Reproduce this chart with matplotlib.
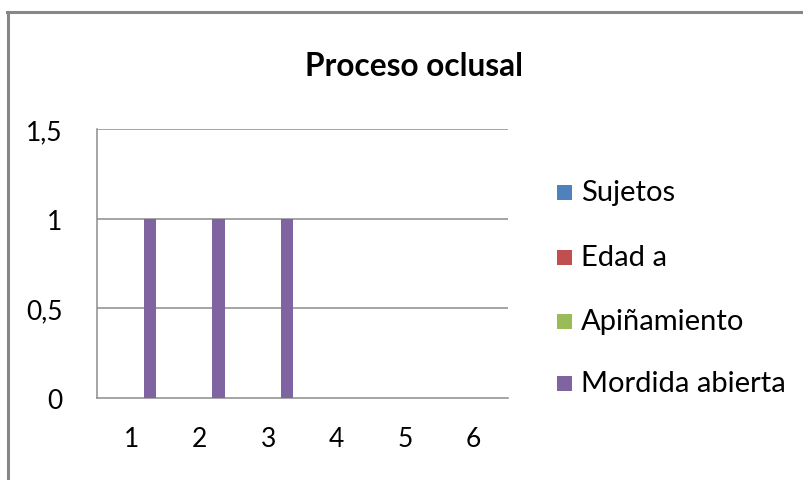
import numpy as np
import matplotlib.pyplot as plt
from matplotlib.patches import Rectangle
from matplotlib.lines import Line2D

plt.rcParams['font.family'] = ['Lato', 'DejaVu Sans']

# chart data
categories = ['1', '2', '3', '4', '5', '6']
series_names = ['Sujetos', 'Edad a', 'Apiñamiento', 'Mordida abierta']
series_colors = ['#4f81bd', '#c0504d', '#9bbb59', '#8064a2']
sujetos = [0, 0, 0, 0, 0, 0]
edad_a = [0, 0, 0, 0, 0, 0]
apinamiento = [0, 0, 0, 0, 0, 0]
mordida_abierta = [1, 1, 1, 0, 0, 0]
y_ticks = [0, 0.5, 1, 1.5]
y_tick_labels = ['0', '0,5', '1', '1,5']

fig = plt.figure(figsize=(8.04, 4.81), dpi=100)
W, H = 804, 481

# outer chart border (only top and left visible in the crop)
fig.add_artist(Line2D([7.5 / W, 1], [1 - 13 / H, 1 - 13 / H], color='#878787', lw=2.2))
fig.add_artist(Line2D([8 / W, 8 / W], [0, 1 - 13 / H], color='#878787', lw=2.2))

ax = fig.add_axes([97 / W, 1 - 399 / H, (508 - 97) / W, (399 - 130) / H])

x = np.arange(len(categories))
n = len(series_names)
bw = 1 / (n + 1.5)
all_series = [sujetos, edad_a, apinamiento, mordida_abierta]
for i, (vals, col) in enumerate(zip(all_series, series_colors)):
    off = (i - (n - 1) / 2) * bw
    ax.bar(x + off, vals, width=bw, color=col, zorder=3, label=series_names[i])

ax.set_xlim(-0.5, len(categories) - 0.5)
ax.set_ylim(0, 1.5)
ax.set_yticks(y_ticks)
ax.set_yticklabels(y_tick_labels)
ax.set_xticks(x)
ax.set_xticklabels(categories)
ax.tick_params(length=0, labelsize=19, colors='black')
ax.tick_params(axis='y', pad=25)
ax.tick_params(axis='x', pad=20)
for yv in y_ticks[1:]:
    ax.axhline(yv, color='#8c8c8c', lw=1.1, zorder=1)
for s in ['top', 'right']:
    ax.spines[s].set_visible(False)
ax.spines['left'].set_color('#8c8c8c')
ax.spines['bottom'].set_color('#8c8c8c')
ax.spines['left'].set_linewidth(1.1)
ax.spines['bottom'].set_linewidth(1.1)

fig.text(414 / W, 1 - 66 / H, 'Proceso oclusal', ha='center', va='center',
         fontsize=22.8, fontweight='bold')

# legend
leg_y = [193, 258, 322, 384]
for name, col, yy in zip(series_names, series_colors, leg_y):
    fig.add_artist(Rectangle((557 / W, 1 - (yy + 7.5) / H), 15 / W, 15 / H,
                             facecolor=col, edgecolor='none', transform=fig.transFigure))
    fig.text(581 / W, 1 - yy / H, name, ha='left', va='center', fontsize=21)

fig.savefig('out.png', dpi=100)
